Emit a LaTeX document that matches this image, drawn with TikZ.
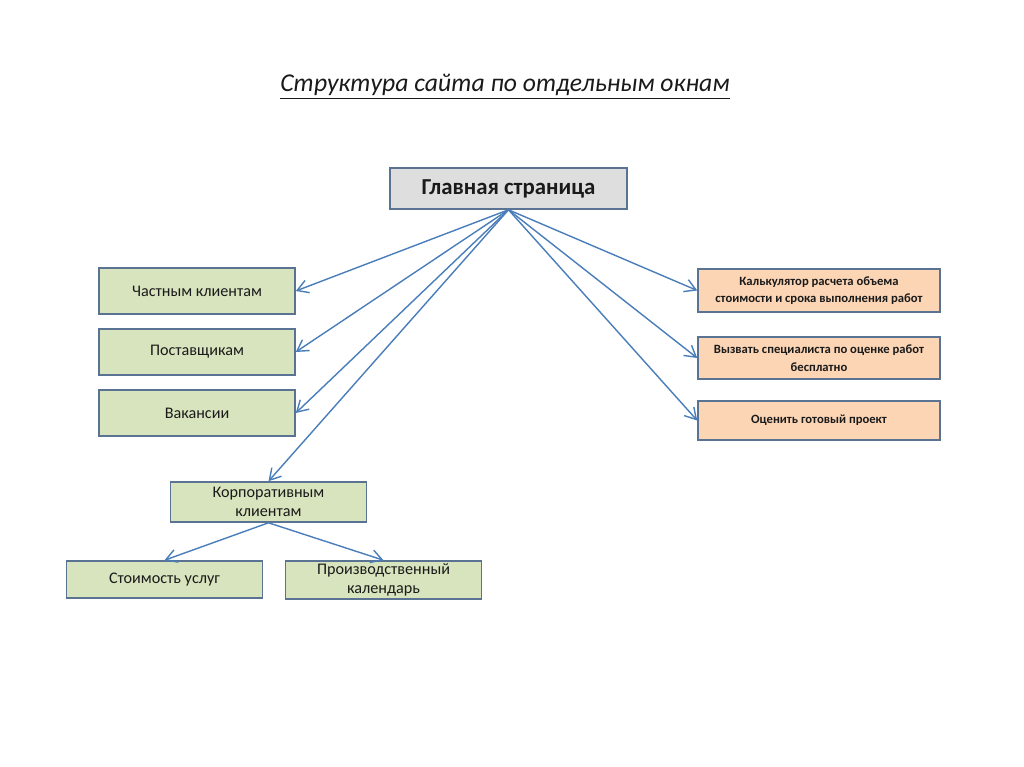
\documentclass[tikz,border=0pt]{standalone}
\usepackage{fontspec}
\setmainfont{Carlito}
\usetikzlibrary{arrows.meta}
\definecolor{edgeblue}{HTML}{4A7EBB}
\definecolor{boxline}{HTML}{5B7393}
\definecolor{hubfill}{HTML}{DEDEDE}
\definecolor{grnfill}{HTML}{D7E4BD}
\definecolor{peachfill}{HTML}{FCD5B5}
\definecolor{ink}{HTML}{1A1A1A}

\begin{document}
\begin{tikzpicture}[x=0.02cm,y=-0.02cm]
    \tikzset{
    hub/.style={draw=boxline,line width=0.9pt,fill=hubfill,minimum width=4.74cm,minimum height=0.82cm,text=ink,font=\fontsize{13}{15}\selectfont\bfseries},
    grn/.style={draw=boxline,line width=0.9pt,fill=grnfill,minimum width=3.92cm,inner ysep=1pt,text=ink,align=center,font=\fontsize{9.2}{11}\selectfont},
    peach/.style={draw=boxline,line width=0.9pt,fill=peachfill,minimum width=4.84cm,inner ysep=1pt,text=ink,align=center,font=\fontsize{7.2}{10}\selectfont\bfseries},
    ln/.style={draw=edgeblue,line width=0.8pt,-{Straight Barb[length=2.2mm,width=2.6mm]}},
    }
    \useasboundingbox[fill=white] (0,0) rectangle (1024,767);
    \node[text=ink,font=\fontsize{14.6}{18}\selectfont\itshape] (title) at (505,87) {\underline{Структура сайта по отдельным окнам}};

    \node[hub] (main) at (508.5,188.5) {Главная страница};

    \node[grn,minimum height=0.92cm] (g1) at (197,291) {Частным клиентам};
    \node[grn,minimum height=0.92cm] (g2) at (197,352) {Поставщикам};
    \node[grn,minimum height=0.92cm] (g3) at (197,413) {Вакансии};
    \node[grn,minimum height=0.80cm] (g4) at (268.5,502) {Корпоративным\\клиентам};
    \node[grn,minimum height=0.74cm] (g5) at (164.5,579.5) {Стоимость услуг};
    \node[grn,minimum height=0.76cm] (g6) at (383.5,580) {Производственный\\календарь};

    \node[peach,minimum height=0.86cm] (p1) at (819,290.5) {Калькулятор расчета объема\\стоимости и срока выполнения работ};
    \node[peach,minimum height=0.84cm] (p2) at (819,358) {Вызвать специалиста по оценке работ\\бесплатно};
    \node[peach,minimum height=0.78cm] (p3) at (819,420.5) {Оценить готовый проект};

    \draw[ln] (main.south) -- (g1.east);
    \draw[ln] (main.south) -- (g2.east);
    \draw[ln] (main.south) -- (g3.east);
    \draw[ln] (main.south) -- (g4.north);
    \draw[ln] (main.south) -- (p1.west);
    \draw[ln] (main.south) -- (p2.west);
    \draw[ln] (main.south) -- (p3.west);
    \draw[ln] (g4.south) -- (g5.north);
    \draw[ln] (g4.south) -- (g6.north);

\end{tikzpicture}
\end{document}
